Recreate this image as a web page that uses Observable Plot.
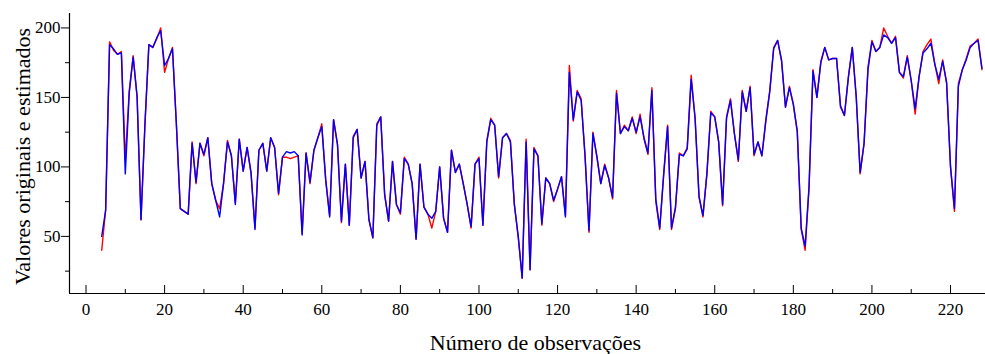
<!DOCTYPE html>
<html><head><meta charset="utf-8">
<script src="https://cdn.jsdelivr.net/npm/d3@7"></script>
<script src="https://cdn.jsdelivr.net/npm/@observablehq/plot@0.6"></script>
<style>
html,body{margin:0;padding:0;background:#fff;}
#chart{width:985px;height:354px;overflow:hidden}
</style></head><body><div id="chart"></div>
<script>
const firstObservation = 4;
const original = [
  40, 69, 190, 184, 181, 183, 105, 155, 180, 150,
  62, 130, 188, 186, 192, 200, 168, 178, 186, 130,
  70, 68, 66, 118, 88, 117, 108, 121, 88, 76,
  70, 88, 119, 108, 74, 120, 97, 114, 95, 56,
  112, 117, 97, 121, 114, 80, 107, 107, 106, 107,
  108, 52, 110, 88, 112, 121, 131, 90, 65, 134,
  116, 60, 102, 58, 122, 127, 92, 104, 62, 49,
  131, 136, 80, 61, 104, 73, 66, 107, 102, 88,
  48, 102, 71, 66, 56, 68, 100, 63, 53, 112,
  96, 102, 88, 73, 56, 102, 107, 58, 119, 135,
  130, 92, 121, 124, 119, 73, 49, 20, 120, 26,
  114, 108, 58, 92, 88, 75, 84, 93, 65, 173,
  133, 155, 149, 107, 53, 125, 107, 88, 102, 92,
  77, 155, 124, 130, 126, 136, 124, 138, 120, 109,
  157, 75, 55, 95, 130, 55, 70, 110, 108, 114,
  166, 135, 78, 64, 95, 140, 136, 118, 72, 136,
  149, 124, 104, 155, 140, 158, 108, 118, 108, 134,
  155, 186, 191, 176, 143, 158, 145, 125, 55, 40,
  85, 170, 150, 176, 186, 177, 178, 178, 143, 137,
  165, 186, 150, 95, 117, 172, 191, 183, 186, 200,
  194, 189, 194, 168, 164, 180, 162, 138, 165, 183,
  188, 192, 174, 160, 177, 160, 100, 68, 160, 170,
  178, 187, 189, 192, 170
];
const estimated = [
  50, 69, 188, 185, 181, 182, 95, 153, 179, 151,
  62, 131, 188, 186, 193, 198, 173, 178, 185, 131,
  70, 68, 66, 117, 89, 117, 109, 121, 88, 76,
  64, 88, 118, 108, 73, 120, 97, 114, 96, 55,
  112, 117, 97, 121, 114, 81, 107, 111, 110, 111,
  108, 51, 110, 89, 112, 121, 129, 91, 64, 134,
  116, 61, 102, 58, 121, 127, 92, 104, 62, 49,
  130, 136, 80, 61, 104, 73, 67, 106, 102, 88,
  48, 102, 71, 66, 63, 68, 100, 63, 53, 112,
  96, 102, 88, 73, 57, 102, 106, 58, 118, 134,
  130, 93, 121, 124, 118, 73, 50, 20, 118, 26,
  113, 108, 59, 92, 88, 76, 84, 93, 64, 168,
  134, 154, 148, 108, 54, 124, 108, 88, 101, 92,
  78, 153, 124, 129, 126, 135, 125, 136, 121, 110,
  155, 77, 56, 94, 129, 56, 71, 109, 108, 113,
  163, 135, 79, 65, 95, 139, 136, 118, 73, 135,
  148, 124, 105, 154, 140, 157, 109, 118, 108, 133,
  154, 185, 191, 177, 143, 157, 145, 126, 56, 43,
  86, 169, 150, 175, 186, 177, 178, 178, 144, 137,
  164, 186, 151, 96, 117, 170, 190, 183, 186, 195,
  193, 189, 193, 168, 165, 179, 162, 142, 165, 182,
  185, 189, 174, 163, 176, 161, 100, 70, 158, 170,
  177, 186, 189, 191, 171
];
const xMajorTicks = [0, 20, 40, 60, 80, 100, 120, 140, 160, 180, 200, 220];
const xMinorTicks = [10, 30, 50, 70, 90, 110, 130, 150, 170, 190, 210];
const yMajorTicks = [50, 100, 150, 200];
const yMinorTicks = [25, 75, 125, 175];
const xLabel = "Número de observações";
const yLabel = "Valores originais e estimados";

const rows = original.map((v, i) => ({obs: firstObservation + i, original: v, estimated: estimated[i]}));

const xDomain = [-4.2, 228.9];
const yDomain = [8.9, 210.4];
const font = "'Liberation Serif', 'Times New Roman', serif";

const chart = Plot.plot({
  width: 985, height: 354,
  marginLeft: 69, marginRight: 0, marginTop: 13, marginBottom: 61,
  style: {fontFamily: font, fontSize: "17px", color: "#000", background: "#fff", overflow: "visible"},
  x: {domain: xDomain},
  y: {domain: yDomain},
  marks: [
    Plot.lineY(rows, {x: "obs", y: "original", stroke: "#ff0000", strokeWidth: 1.4}),
    Plot.lineY(rows, {x: "obs", y: "estimated", stroke: "#0000ff", strokeWidth: 1.4}),
    Plot.ruleY([yDomain[0]], {stroke: "#000", strokeWidth: 1.2}),
    Plot.ruleX([xDomain[0]], {stroke: "#000", strokeWidth: 1.2}),
    Plot.ruleX(xMajorTicks, {x: d => d, y1: () => yDomain[0], y2: () => yDomain[0], insetTop: -8, stroke: "#000"}),
    Plot.ruleX(xMinorTicks, {x: d => d, y1: () => yDomain[0], y2: () => yDomain[0], insetTop: -4, stroke: "#000"}),
    Plot.ruleY(yMajorTicks, {y: d => d, x1: () => xDomain[0], x2: () => xDomain[0], insetLeft: -8, stroke: "#000"}),
    Plot.ruleY(yMinorTicks, {y: d => d, x1: () => xDomain[0], x2: () => xDomain[0], insetLeft: -4, stroke: "#000"}),
    Plot.axisX(xMajorTicks, {tickSize: 0, tickPadding: 9, label: null, fontSize: 17}),
    Plot.axisY(yMajorTicks, {tickSize: 0, tickPadding: 9, label: null, fontSize: 17}),
    Plot.text([xLabel], {frameAnchor: "bottom", lineAnchor: "middle", textAnchor: "middle", dx: 8, dy: 49, fontSize: 22, fill: "#000"}),
    Plot.text([yLabel], {frameAnchor: "left", lineAnchor: "middle", textAnchor: "middle", rotate: -90, dx: -47, dy: 3, fontSize: 22, fill: "#000"})
  ]
});
document.getElementById("chart").appendChild(chart);
</script></body></html>
